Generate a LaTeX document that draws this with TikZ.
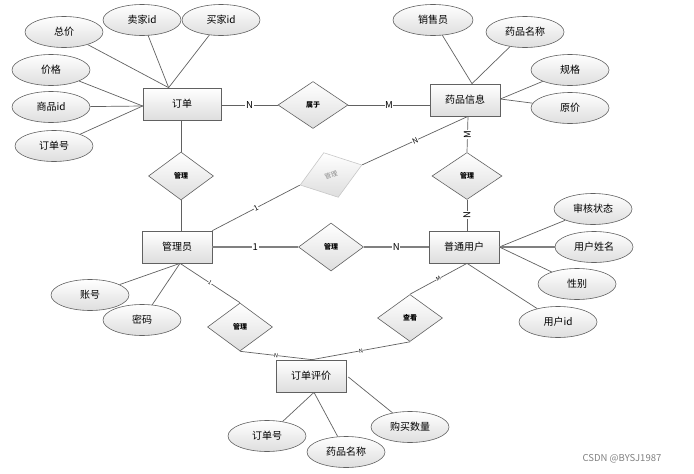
\documentclass[tikz,border=0pt]{standalone}
\usepackage{fontspec}
\setmainfont{Noto Sans CJK SC}
\usepackage{tikz}
\usetikzlibrary{positioning}
\usetikzlibrary{shapes.geometric}
\colorlet{lineC}{black!62}
\colorlet{fadeC}{black!22}
\colorlet{shadeC}{black!13}

\begin{document}
\begin{tikzpicture}[x=1pt,y=-1pt,
  entity/.style={draw=lineC,line width=0.7pt,top color=white,bottom color=shadeC,shape=rectangle,
    minimum width=70pt,minimum height=32pt,inner sep=0pt,font=\fontsize{10}{12}\selectfont},
  attr/.style={draw=lineC,line width=0.6pt,top color=white,bottom color=shadeC,shape=ellipse,
    minimum width=78pt,minimum height=31pt,inner sep=0pt,font=\fontsize{10}{12}\selectfont},
  rel/.style={draw=lineC,line width=0.6pt,top color=white,bottom color=shadeC,shape=diamond,
    minimum width=65pt,minimum height=47pt,inner sep=0pt,font=\fontsize{7}{8}\selectfont\bfseries},
  link/.style={draw=lineC,line width=0.7pt},
  heavy/.style={draw=black!50,line width=1.3pt},
  card/.style={fill=white,inner sep=0.6pt,font=\fontsize{9.5}{10}\selectfont},
  small/.style={fill=white,inner sep=0.4pt,font=\fontsize{7.5}{8}\selectfont},
  tiny/.style={fill=white,inner sep=0.2pt,font=\fontsize{5.5}{6}\selectfont}]
\useasboundingbox (0,0) rectangle (694,474);

% entities
\node[entity,minimum width=78pt] (order) at (182,104) {订单};
\node[entity] (drug) at (465,100) {药品信息};
\node[entity] (admin) at (177,247) {管理员};
\node[entity] (user) at (464,247) {普通用户};
\node[entity] (review) at (311,376) {订单评价};

% relations
\node[rel,minimum width=70pt] (belong) at (313,105) {属于};
\node[rel,minimum height=48pt] (mgrA) at (181,176) {管理};
\node[rel,draw=fadeC,text=black!45,rotate=18,font=\fontsize{6.5}{7}\selectfont] (mgrB) at (331,175) {管理};
\node[rel,minimum height=48pt] (mgrC) at (331,247) {管理};
\node[rel,minimum width=70pt] (mgrD) at (467,176) {管理};
\node[rel,minimum height=48pt] (mgrE) at (240,327) {管理};
\node[rel] (look) at (410,318) {查看};

% attributes
\node[attr] (total) at (64,32) {总价};
\node[attr] (seller) at (142,20) {卖家id};
\node[attr] (buyer) at (221,20) {买家id};
\node[attr] (price) at (51,70) {价格};
\node[attr] (goods) at (51,107) {商品id};
\node[attr] (orderno) at (54,146) {订单号};
\node[attr,minimum width=80pt] (sales) at (433,20) {销售员};
\node[attr] (dname) at (525,32) {药品名称};
\node[attr] (spec) at (570,70) {规格};
\node[attr] (cost) at (570,108) {原价};
\node[attr] (account) at (90,295) {账号};
\node[attr] (passwd) at (142,320) {密码};
\node[attr] (audit) at (593,209) {审核状态};
\node[attr] (uname) at (594,247) {用户姓名};
\node[attr] (sex) at (577,284) {性别};
\node[attr] (uid) at (558,322) {用户id};
\node[attr] (rorder) at (267,436) {订单号};
\node[attr] (rname) at (346,452) {药品名称};
\node[attr] (amount) at (410,427) {购买数量};

% meeting points
\coordinate (orderT) at ([xshift=26pt]order.north west);
\coordinate (orderL) at ([yshift=-2pt]order.west);
\coordinate (drugT) at ([xshift=7pt]drug.north);
\coordinate (drugR) at ([yshift=1pt]drug.east);
\coordinate (drugB) at ([xshift=3pt]drug.south);
\coordinate (adminB) at ([xshift=3pt]admin.south);
\coordinate (userB) at ([xshift=3pt]user.south);
\coordinate (reviewT) at ([xshift=1pt]review.north);
\coordinate (reviewB) at ([xshift=3pt]review.south);
\coordinate (reviewR) at ([xshift=2pt,yshift=-1pt]review.east);

\draw[link] (total) -- (orderT);
\draw[link] (seller) -- (orderT);
\draw[link] (buyer) -- (orderT);
\draw[link] (price) -- (orderL);
\draw[link] (goods) -- (orderL);
\draw[link] (orderno) -- (orderL);
\draw[link] (sales) -- (drugT);
\draw[link] (dname) -- (drugT);
\draw[link] (spec) -- (drugR);
\draw[link] (cost) -- (drugR);
\draw[link] (account) -- (adminB);
\draw[link] (passwd) -- (adminB);
\draw[link] (audit) -- (user.east);
\draw[heavy] (uname) -- (user.east);
\draw[link] (sex) -- (user.east);
\draw[link] (uid) -- (userB);
\draw[link] (rorder) -- (reviewB);
\draw[link] (rname) -- (reviewB);
\draw[link] (amount) -- (reviewR);

% relationships
\draw[link] (order.east |- belong.west) -- (belong.west) node[card,midway] {N};
\draw[link] (belong.east) -- (belong.east -| drug.west) node[card,midway] {M};
\draw[link] (order.south -| mgrA.north) -- (mgrA.north);
\draw[link] (mgrA.south) -- (mgrA.south |- admin.north);
\draw[link] (drugB) -- (mgrB.east) node[small,midway,sloped] {N};
\draw[link] (admin.north east) -- (mgrB.west) node[small,midway,sloped] {1};
\draw[heavy] (admin.east) -- (mgrC.west) node[card,midway] {1};
\draw[heavy] (mgrC.east) -- (user.west) node[card,midway] {N};
\draw[link] (drugB) -- (mgrD.north) node[card,midway,rotate=90] {M};
\draw[link] (mgrD.south) -- (mgrD.south |- user.north) node[card,midway,rotate=90] {N};
\draw[link] (adminB) -- (mgrE.north) node[tiny,midway,sloped] {1};
\draw[link] (mgrE.south) -- (reviewT) node[tiny,midway,sloped] {N};
\draw[link] (userB) -- (look.north) node[tiny,midway,sloped] {M};
\draw[link] (look.south) -- (reviewT) node[tiny,midway,sloped] {N};

\node[text=black!50,font=\fontsize{9.5}{11}\selectfont] (mark) at (622,459) {CSDN @BYSJ1987};
\end{tikzpicture}
\end{document}
